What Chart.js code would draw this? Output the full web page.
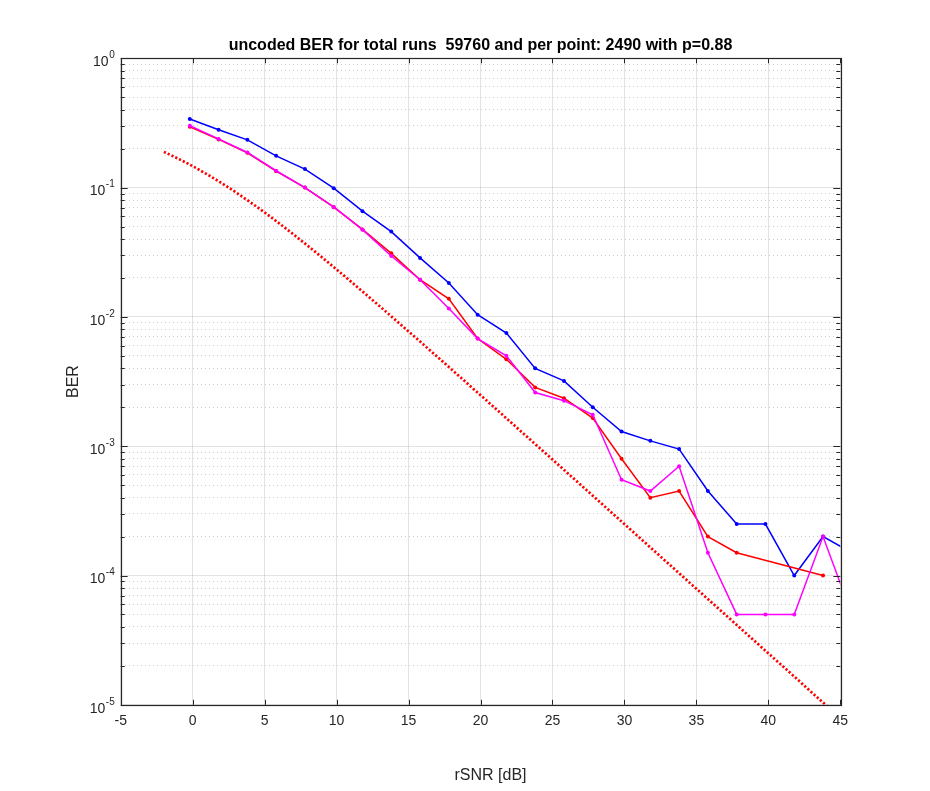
<!DOCTYPE html>
<html><head><meta charset="utf-8">
<script src="https://cdn.jsdelivr.net/npm/chart.js@4.4.0/dist/chart.umd.min.js"></script>
<style>html,body{margin:0;padding:0;background:#fff;} canvas{display:block;}</style>
</head><body>
<canvas id="c" width="930" height="791" style="width:930px;height:791px"></canvas>
<script>
// ---- data ----
const snr = [-0.2, 1.8, 3.8, 5.8, 7.8, 9.8, 11.8, 13.8, 15.8, 17.8, 19.8, 21.8, 23.8, 25.8, 27.8, 29.8, 31.8, 33.8, 35.8, 37.8, 39.8, 41.8, 43.8, 45.8];
const berBlue = [0.339, 0.280, 0.234, 0.176, 0.139, 0.099, 0.0657, 0.0457, 0.0286, 0.0183, 0.0104, 0.0075, 0.0040, 0.0032, 0.0020, 0.0013, 0.0011, 0.00095, 0.00045, 0.00025, 0.00025, 0.0001, 0.0002, 0.00015];
const berRed = [0.295, 0.236, 0.186, 0.134, 0.100, 0.0705, 0.0475, 0.0310, 0.0194, 0.0138, 0.0068, 0.0047, 0.00285, 0.00235, 0.00165, 0.0008, 0.0004, 0.00045, 0.0002, 0.00015, null, null, 0.0001, null];
const berMagenta = [0.301, 0.238, 0.187, 0.135, 0.100, 0.0709, 0.0473, 0.0296, 0.0194, 0.0116, 0.0068, 0.0050, 0.0026, 0.00225, 0.00175, 0.00055, 0.00045, 0.0007, 0.00015, 0.00005, 0.00005, 0.00005, 0.0002, 0.00005];
const theorySnr = [-2, -1, 0, 1, 2, 3, 4, 5, 6, 7, 8, 9, 10, 11, 12, 13, 14, 15, 16, 17, 18, 19, 20, 21, 22, 23, 24, 25, 26, 27, 28, 29, 30, 31, 32, 33, 34, 35, 36, 37, 38, 39, 40, 41, 42, 43, 44, 45, 46];
const theoryBer = [0.1890, 0.1673, 0.1464, 0.1267, 0.1085, 0.09192, 0.07714, 0.06418, 0.05300, 0.04347, 0.03546, 0.02878, 0.02327, 0.01875, 0.01506, 0.01208, 0.009666, 0.007722, 0.006164, 0.004915, 0.003916, 0.003118, 0.002481, 0.001974, 0.001570, 0.001248, 0.000992, 0.000789, 0.000627, 0.000498, 0.0003956, 0.0003143, 0.0002498, 0.0001984, 0.0001576, 0.0001252, 0.0000995, 0.0000790, 0.0000628, 0.0000499, 0.0000396, 0.0000315, 0.0000250, 0.0000199, 0.0000158, 0.0000125, 0.00000995, 0.00000791, 0.00000628];
const xTicks = [-5, 0, 5, 10, 15, 20, 25, 30, 35, 40, 45];
const yDecades = [1e-5, 1e-4, 1e-3, 1e-2, 1e-1, 1];
const yExponents = ['-5', '-4', '-3', '-2', '-1', '0'];
const yMantissas = [1, 2, 3, 4, 5, 6, 7, 8, 9];
const titleText = 'uncoded BER for total runs  59760 and per point: 2490 with p=0.88';
const xLabel = 'rSNR [dB]';
const yLabel = 'BER';

// ---- helpers ----
const FONT = "'Liberation Sans', Arial, Helvetica, sans-serif";
const AX = '#262626';
const pts = (xs, ys) => xs.map((x, i) => ({x: x, y: ys[i]}));
function yTickList() {
  const out = [];
  for (let i = 0; i < yDecades.length - 1; i++) {
    yMantissas.forEach(m => out.push({value: yDecades[i] * m, major: m === 1}));
  }
  out.push({value: yDecades[yDecades.length - 1], major: true});
  return out;
}

const frame = {
  id: 'frame',
  afterDraw(chart) {
    const {ctx, chartArea: a, scales} = chart;
    const y = scales.y, x = scales.x;
    ctx.save();
    ctx.strokeStyle = AX;
    ctx.lineWidth = 1;
    ctx.beginPath();
    y.ticks.forEach(t => {
      const py = Math.round(y.getPixelForValue(t.value)) + 0.5;
      const len = t.major ? 7 : 4;
      ctx.moveTo(a.left, py); ctx.lineTo(a.left + len, py);
      ctx.moveTo(a.right, py); ctx.lineTo(a.right - len, py);
    });
    x.ticks.forEach(t => {
      const px = Math.round(x.getPixelForValue(t.value)) + 0.5;
      ctx.moveTo(px, a.bottom); ctx.lineTo(px, a.bottom - 5);
      ctx.moveTo(px, a.top); ctx.lineTo(px, a.top + 5);
    });
    ctx.stroke();
    ctx.lineWidth = 1.2;
    ctx.strokeRect(Math.round(a.left) + 0.5, Math.round(a.top) + 0.5, Math.round(a.right - a.left), Math.round(a.bottom - a.top));
    // y tick labels 10^n
    ctx.fillStyle = AX;
    ctx.textBaseline = 'middle';
    yDecades.forEach((d, i) => {
      const py = y.getPixelForValue(d);
      ctx.font = '10px ' + FONT;
      const ew = ctx.measureText(yExponents[i]).width;
      const right = a.left - 6;
      ctx.textAlign = 'left';
      ctx.fillText(yExponents[i], right - ew, py - 3);
      ctx.font = '14px ' + FONT;
      ctx.textAlign = 'right';
      ctx.fillText('10', right - ew - 0.5, py + 4);
    });
    // x axis label
    ctx.font = '16px ' + FONT;
    ctx.textAlign = 'center';
    ctx.textBaseline = 'alphabetic';
    ctx.fillText(xLabel, (a.left + a.right) / 2 + 10, 780);
    ctx.restore();
  }
};

const lineDs = (label, ys, color) => ({
  label: label,
  data: pts(snr, ys),
  borderColor: color,
  backgroundColor: color,
  borderWidth: 1.5,
  pointRadius: 2,
  pointBorderWidth: 0,
  pointHoverRadius: 2,
  spanGaps: true,
  clip: 0,
  tension: 0
});

new Chart(document.getElementById('c'), {
  type: 'line',
  data: {
    datasets: [
      lineDs('magenta', berMagenta, '#ff00ff'),
      lineDs('red', berRed, '#ff0000'),
      lineDs('blue', berBlue, '#0000ff'),
      {
        label: 'theory',
        data: pts(theorySnr, theoryBer),
        borderColor: '#ff0000',
        borderWidth: 2.7,
        borderDash: [2.2, 2.0],
        pointRadius: 0,
        clip: 0,
        tension: 0.3,
        cubicInterpolationMode: 'monotone'
      }
    ]
  },
  plugins: [frame],
  options: {
    responsive: false,
    animation: false,
    devicePixelRatio: 1,
    layout: {padding: {left: 0, right: 89.7, top: 0, bottom: 8}},
    plugins: {
      legend: {display: false},
      tooltip: {enabled: false},
      title: {
        display: true,
        text: titleText,
        fullSize: false,
        color: '#000',
        font: {family: FONT, size: 16, weight: 'bold', lineHeight: 1.2},
        padding: {top: 36.2, bottom: 2.9}
      }
    },
    scales: {
      x: {
        type: 'linear',
        min: -5, max: 45,
        afterBuildTicks: s => { s.ticks = xTicks.map(v => ({value: v})); },
        afterFit: s => { s.height = 78.2; },
        grid: {color: 'rgba(38,38,38,0.13)', drawTicks: false, lineWidth: 1},
        border: {display: false},
        ticks: {color: AX, font: {family: FONT, size: 14}, padding: 8, maxRotation: 0},
        title: {display: false}
      },
      y: {
        type: 'logarithmic',
        position: 'left',
        min: 1e-5, max: 1,
        afterBuildTicks: s => { s.ticks = yTickList(); },
        afterFit: s => { s.width = 120.7; },
        grid: {color: c => (c.tick && c.tick.major) ? 'rgba(38,38,38,0.13)' : 'rgba(0,0,0,0)', drawTicks: false, lineWidth: 1},
        border: {display: false},
        ticks: {display: false},
        title: {display: true, text: yLabel, color: AX, font: {family: FONT, size: 16}, padding: {top: 64.4, bottom: 0}}
      },
      yMinor: {
        type: 'logarithmic',
        position: 'left',
        min: 1e-5, max: 1,
        afterBuildTicks: s => { s.ticks = yTickList(); },
        afterFit: s => { s.width = 0; },
        grid: {color: c => (c.tick && c.tick.major) ? 'rgba(0,0,0,0)' : 'rgba(38,38,38,0.22)', drawTicks: false, lineWidth: 1},
        border: {display: false, dash: [1, 3]},
        ticks: {display: false}
      }
    }
  }
});
</script>
</body></html>
